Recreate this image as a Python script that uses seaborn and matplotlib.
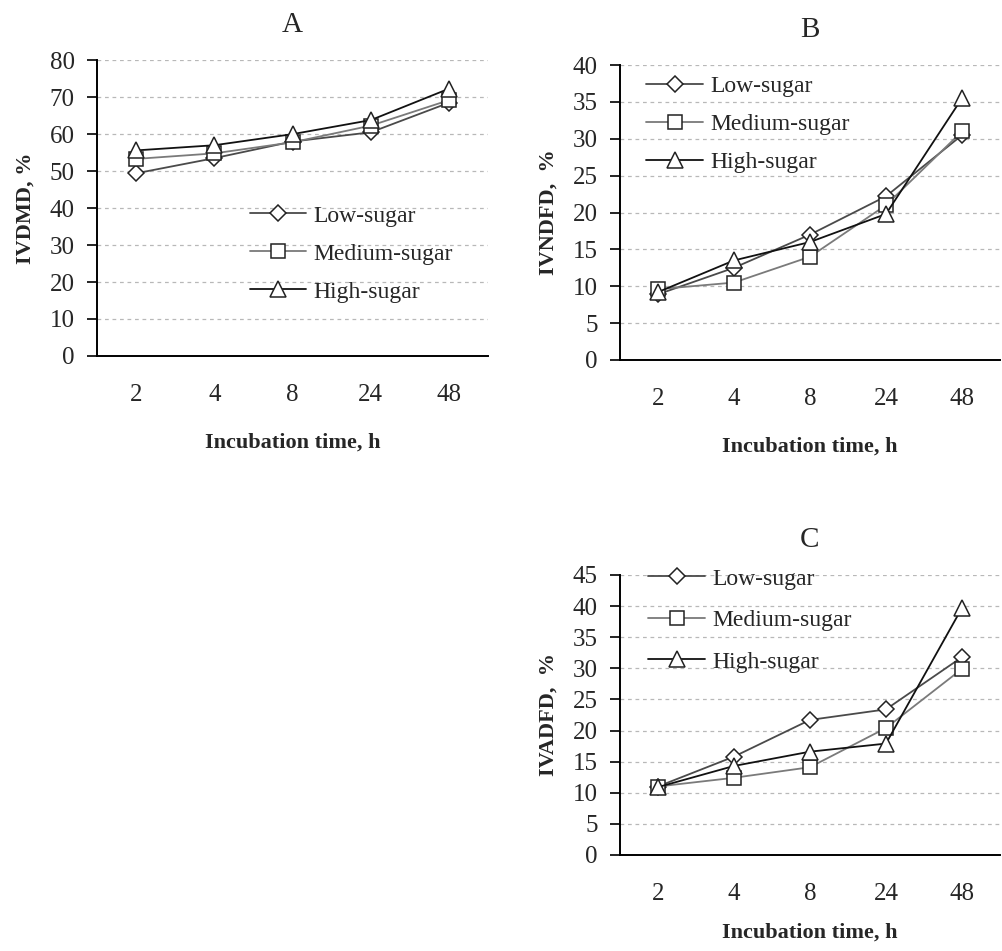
import matplotlib
matplotlib.use("Agg")
import matplotlib.pyplot as plt
import pandas as pd
import seaborn as sns

# incubation times (categorical axis)
times = ["2", "4", "8", "24", "48"]
groups = ["Low-sugar", "Medium-sugar", "High-sugar"]

# A: IVDMD, %
ivdmd_low = [49.4, 53.5, 58.0, 60.5, 68.5]
ivdmd_med = [53.3, 54.8, 57.8, 62.3, 69.2]
ivdmd_high = [55.6, 57.0, 60.0, 63.8, 72.3]

# B: IVNDFD, %
ivndfd_low = [8.9, 12.5, 17.0, 22.2, 30.5]
ivndfd_med = [9.6, 10.5, 14.0, 21.0, 31.0]
ivndfd_high = [9.2, 13.5, 16.0, 19.8, 35.5]

# C: IVADFD, %
ivadfd_low = [11.0, 15.8, 21.7, 23.4, 31.8]
ivadfd_med = [11.0, 12.4, 14.1, 20.4, 29.9]
ivadfd_high = [10.9, 14.3, 16.6, 17.9, 39.7]

sns.set_theme(style="white")
plt.rcParams["font.family"] = ["Liberation Serif", "DejaVu Serif"]

markers = {"Low-sugar": "D", "Medium-sugar": "s", "High-sugar": "^"}
colors = {"Low-sugar": "#4a4a4a", "Medium-sugar": "#7a7a7a", "High-sugar": "#111111"}
msizes = {"Low-sugar": 8, "Medium-sugar": 10, "High-sugar": 11}


def make_df(low, med, high):
    rows = []
    for g, vals in zip(groups, [low, med, high]):
        for i, (t, v) in enumerate(zip(times, vals)):
            rows.append({"pos": i, "time": t, "group": g, "value": v})
    return pd.DataFrame(rows)


def draw_panel(ax, df, title, ylabel, ymax, ystep, leg_anchor, labelspacing, xpad):
    for g in groups:
        sub = df[df["group"] == g]
        sns.lineplot(data=sub, x="pos", y="value", ax=ax, color=colors[g],
                     marker=markers[g], markersize=msizes[g], markerfacecolor="white",
                     markeredgecolor="#222222", markeredgewidth=1.1, linewidth=1.3,
                     label=g, sort=False)
    ax.set_xlim(-0.5, 4.5)
    ax.set_ylim(0, ymax)
    ax.set_yticks(range(0, ymax + 1, ystep))
    ax.set_xticks(range(len(times)))
    ax.set_xticklabels(times)
    ax.set_xticks([i - 0.5 for i in range(len(times) + 1)], minor=True)
    ax.tick_params(axis="x", which="major", length=0, pad=20, labelsize=18)
    ax.tick_params(axis="x", which="minor", length=6, width=1.2, direction="out", color="black")
    ax.tick_params(axis="y", which="major", length=7, width=1.2, direction="out",
                   pad=9, labelsize=18, color="black", left=True)
    ax.yaxis.grid(True, linestyle=(0, (3, 3)), color="#b8b8b8", linewidth=0.9)
    ax.xaxis.grid(False)
    for s in ["top", "right"]:
        ax.spines[s].set_visible(False)
    for s in ["left", "bottom"]:
        ax.spines[s].set_color("black")
        ax.spines[s].set_linewidth(1.4)
    ax.set_title(title, fontsize=21, pad=20)
    ax.set_xlabel("Incubation time, h", fontsize=16, fontweight="bold", labelpad=xpad)
    ax.set_ylabel(ylabel, fontsize=16, fontweight="bold", labelpad=10)
    ax.legend(loc="upper left", bbox_to_anchor=leg_anchor, frameon=False, fontsize=17,
              handlelength=2.4, handletextpad=0.3, labelspacing=labelspacing, borderpad=0,
              borderaxespad=0)


fig = plt.figure(figsize=(10.03, 9.51), dpi=100)
ax_a = fig.add_axes([0.0967, 0.6257, 0.390, 0.311])
ax_b = fig.add_axes([0.618, 0.6215, 0.379, 0.310])
ax_c = fig.add_axes([0.618, 0.101, 0.379, 0.2944])

draw_panel(ax_a, make_df(ivdmd_low, ivdmd_med, ivdmd_high), "A", "IVDMD, %", 80, 10,
           (0.39, 0.51), 0.7, 19)
draw_panel(ax_b, make_df(ivndfd_low, ivndfd_med, ivndfd_high), "B", "IVNDFD,  %", 40, 5,
           (0.07, 0.965), 0.7, 19)
draw_panel(ax_c, make_df(ivadfd_low, ivadfd_med, ivadfd_high), "C", "IVADFD,  %", 45, 5,
           (0.075, 1.025), 0.85, 13)

fig.savefig("out.png", dpi=100)
